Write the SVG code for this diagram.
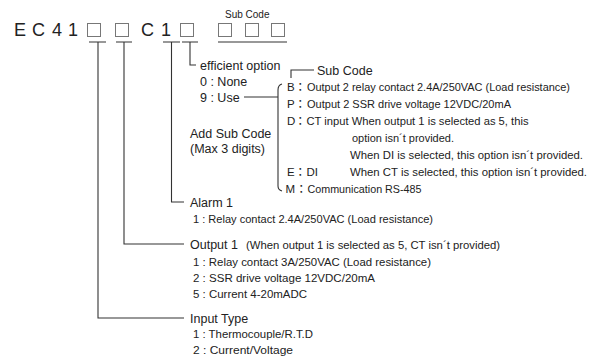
<svg xmlns="http://www.w3.org/2000/svg" width="606" height="361" viewBox="0 0 606 361">
<style>
.h{font-family:"Liberation Sans",Arial,sans-serif;font-size:12.5px;fill:#222}
.c{font-family:"Liberation Sans","Noto Sans CJK JP",Arial,sans-serif;font-size:11.5px;fill:#222}
.big{font-family:"Liberation Sans",Arial,sans-serif;font-size:18px;fill:#222}
.box{fill:none;stroke:#777;stroke-width:1}
.ln{fill:none;stroke:#333;stroke-width:1.1}
</style>
<rect width="606" height="361" fill="#fff"/>
<g id="code">
  <text class="big" x="14" y="36">E</text>
  <text class="big" x="32" y="36">C</text>
  <text class="big" x="52" y="36">4</text>
  <text class="big" x="68" y="36">1</text>
  <rect class="box" x="87.5" y="23.5" width="13" height="13"/>
  <rect class="box" x="115.5" y="23.5" width="13" height="13"/>
  <text class="big" x="141" y="36">C</text>
  <text class="big" x="161" y="36">1</text>
  <rect class="box" x="180.5" y="23.5" width="13" height="13"/>
  <rect class="box" x="218.5" y="23.5" width="13" height="13"/>
  <rect class="box" x="245.5" y="23.5" width="13" height="13"/>
  <rect class="box" x="271.5" y="23.5" width="13" height="13"/>
  <text class="h" x="225" y="18" style="font-size:10px">Sub Code</text>
</g>
<g id="connectors">
  <path class="ln" d="M89 42H106M116 42H132M163 42H180M182 42H198M218 42H287"/>
  <path class="ln" d="M190 42V65H196"/>
  <path class="ln" d="M171.5 42V202H184"/>
  <path class="ln" d="M124 42V244H184"/>
  <path class="ln" d="M98 42V318H184"/>
  <path class="ln" d="M244 97H278"/>
  <path class="ln" d="M282 84Q278 85 278 90V186Q278 190 282 191"/>
  <path class="ln" d="M291 78V70H314"/>
</g>
<g id="efficient-option">
  <text class="h" x="200" y="69.5">efficient option</text>
  <text class="h" x="200" y="85.5">0 : None</text>
  <text class="h" x="200" y="101.5">9 : Use</text>
</g>
<g id="add-sub-code">
  <text class="h" x="190" y="137.5">Add Sub Code</text>
  <text class="h" x="190" y="152.5">(Max 3 digits)</text>
</g>
<g id="sub-code">
  <text class="h" x="317" y="74.5">Sub Code</text>
  <text class="c" x="287" y="91">B</text>
  <text class="c" x="294.5" y="91">：</text>
  <text class="c" x="307" y="91" textLength="263" lengthAdjust="spacingAndGlyphs">Output 2 relay contact 2.4A/250VAC (Load resistance)</text>
  <text class="c" x="287" y="108">P</text>
  <text class="c" x="294.5" y="108">：</text>
  <text class="c" x="307" y="108" textLength="204" lengthAdjust="spacingAndGlyphs">Output 2 SSR drive voltage 12VDC/20mA</text>
  <text class="c" x="287" y="125">D</text>
  <text class="c" x="294.5" y="125">：</text>
  <text class="c" x="306.5" y="125" textLength="222" lengthAdjust="spacingAndGlyphs">CT input When output 1 is selected as 5, this</text>
  <text class="c" x="352" y="142" textLength="102" lengthAdjust="spacingAndGlyphs">option isn´t provided.</text>
  <text class="c" x="350" y="159" textLength="233" lengthAdjust="spacingAndGlyphs">When DI is selected, this option isn´t provided.</text>
  <text class="c" x="287" y="176">E</text>
  <text class="c" x="294.5" y="176">：</text>
  <text class="c" x="306.5" y="176">DI</text>
  <text class="c" x="350" y="176" textLength="237" lengthAdjust="spacingAndGlyphs">When CT is selected, this option isn´t provided.</text>
  <text class="c" x="285.5" y="193">M</text>
  <text class="c" x="295.5" y="193">：</text>
  <text class="c" x="307.5" y="193" textLength="114" lengthAdjust="spacingAndGlyphs">Communication RS-485</text>
</g>
<g id="alarm-1">
  <text class="h" x="190" y="206.5">Alarm 1</text>
  <text class="c" x="193" y="223" textLength="240" lengthAdjust="spacingAndGlyphs">1 : Relay contact 2.4A/250VAC (Load resistance)</text>
</g>
<g id="output-1">
  <text class="h" x="190" y="248.5">Output 1</text>
  <text class="c" x="246" y="248.5" textLength="254" lengthAdjust="spacingAndGlyphs">(When output 1 is selected as 5, CT isn´t provided)</text>
  <text class="c" x="193" y="266" textLength="238" lengthAdjust="spacingAndGlyphs">1 : Relay contact 3A/250VAC (Load resistance)</text>
  <text class="c" x="193" y="282" textLength="182" lengthAdjust="spacingAndGlyphs">2 : SSR drive voltage 12VDC/20mA</text>
  <text class="c" x="193" y="298" textLength="114" lengthAdjust="spacingAndGlyphs">5 : Current 4-20mADC</text>
</g>
<g id="input-type">
  <text class="h" x="190" y="322.5">Input Type</text>
  <text class="c" x="193" y="338" textLength="120" lengthAdjust="spacingAndGlyphs">1 : Thermocouple/R.T.D</text>
  <text class="c" x="193" y="354" textLength="100" lengthAdjust="spacingAndGlyphs">2 : Current/Voltage</text>
</g>
</svg>
